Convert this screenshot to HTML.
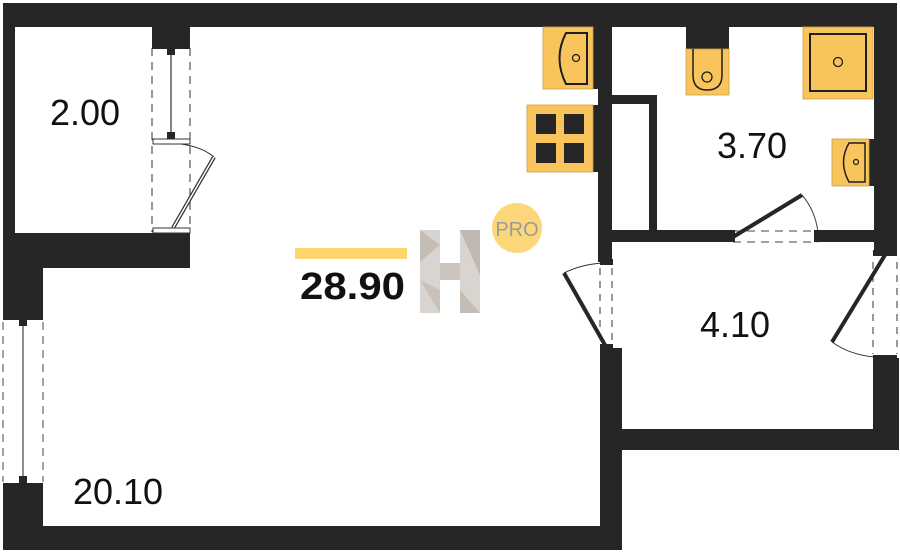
<!DOCTYPE html>
<html><head><meta charset="utf-8"><style>
html,body{margin:0;padding:0;background:#fff;}
svg{display:block;}
text{font-family:"Liberation Sans","DejaVu Sans",sans-serif;}
</style></head><body>
<svg width="900" height="553" viewBox="0 0 900 553" xmlns="http://www.w3.org/2000/svg">
<g fill="#262626">
<rect x="3" y="3" width="894" height="24"/>
<rect x="3" y="3" width="12" height="265"/>
<rect x="152" y="16" width="38" height="29"/>
<rect x="3" y="233" width="187" height="35"/>
<rect x="3" y="233" width="40" height="85"/>
<rect x="3" y="483" width="40" height="67"/>
<rect x="3" y="526" width="619" height="24"/>
<rect x="600" y="348" width="22" height="202"/>
<rect x="598" y="27" width="14" height="235"/>
<rect x="600" y="429" width="299" height="21"/>
<rect x="873" y="358" width="26" height="92"/>
<rect x="874" y="3" width="23" height="248"/>
<rect x="612" y="230" width="117" height="12"/>
<rect x="818" y="230" width="56" height="12"/>
<rect x="612" y="95" width="45" height="9"/>
<rect x="649" y="95" width="8" height="137"/>
<rect x="593" y="27" width="5" height="62"/>
<rect x="593" y="105" width="5" height="67"/>
<rect x="686" y="27" width="43" height="22"/>
<rect x="869" y="139" width="5" height="47"/>
</g>
<g stroke="#333" fill="none">
<line x1="152" y1="48" x2="152" y2="232" stroke-dasharray="8,6"/>
<line x1="190" y1="48" x2="190" y2="232" stroke-dasharray="8,6"/>
<line x1="171" y1="50" x2="171" y2="135" stroke-width="1.2"/>
<path d="M172 143 Q200 145 214 157" stroke-width="1"/>
<line x1="214" y1="157" x2="173" y2="228" stroke-width="4"/>
<line x1="214" y1="157" x2="173" y2="228" stroke="#fff" stroke-width="1.5"/>
</g>
<rect x="152" y="45" width="38" height="4" fill="#262626"/>
<rect x="167" y="49" width="8" height="6" fill="#262626"/>
<rect x="167" y="132" width="8" height="7" fill="#262626"/>
<rect x="153" y="139" width="37" height="5" fill="#fff" stroke="#333"/>
<rect x="153" y="228" width="37" height="5" fill="#fff" stroke="#333"/>
<g stroke="#444" fill="none">
<line x1="3" y1="322" x2="3" y2="482" stroke-dasharray="8,6"/>
<line x1="43" y1="322" x2="43" y2="482" stroke-dasharray="8,6"/>
<line x1="23" y1="325" x2="23" y2="478" stroke-width="1.2"/>
</g>
<rect x="3" y="315" width="40" height="5" fill="#262626"/>
<rect x="19" y="320" width="8" height="6" fill="#262626"/>
<rect x="19" y="476" width="8" height="7" fill="#262626"/>
<g stroke="#333" fill="none">
<line x1="600" y1="268" x2="600" y2="344" stroke-dasharray="7,6"/>
<line x1="612" y1="268" x2="612" y2="344" stroke-dasharray="7,6"/>
<path d="M564 273 Q582 264 604 263" stroke-width="1"/>
<line x1="605" y1="345" x2="564" y2="273" stroke-width="4" stroke="#262626"/>
</g>
<rect x="600" y="259" width="13" height="6" fill="#262626"/>
<rect x="600" y="344" width="13" height="6" fill="#262626"/>
<g stroke="#333" fill="none">
<line x1="873" y1="262" x2="873" y2="354" stroke-dasharray="7,6"/>
<line x1="897" y1="262" x2="897" y2="354" stroke-dasharray="7,6"/>
<path d="M832 342 Q850 355 875 357" stroke-width="1"/>
<line x1="885" y1="255" x2="832" y2="342" stroke-width="4" stroke="#262626"/>
</g>
<rect x="873" y="250" width="24" height="6" fill="#262626"/>
<rect x="873" y="355" width="24" height="5" fill="#262626"/>
<g stroke="#444" fill="none">
<line x1="733" y1="231" x2="818" y2="231" stroke-dasharray="8,6"/>
<line x1="733" y1="242" x2="818" y2="242" stroke-dasharray="8,6"/>
<path d="M802 195 Q815 210 818 232" stroke-width="1"/>
<line x1="733" y1="237" x2="802" y2="195" stroke-width="4" stroke="#262626"/>
</g>
<rect x="727" y="230" width="8" height="12" fill="#262626"/>
<rect x="814" y="230" width="8" height="12" fill="#262626"/>
<g fill="#f9c45c" stroke="#c8a04a" stroke-width="0.8">
<rect x="543" y="27" width="50" height="62"/>
<rect x="527" y="105" width="66" height="67"/>
<rect x="686" y="49" width="43" height="46"/>
<rect x="803" y="27" width="70" height="72"/>
<rect x="832" y="139" width="37" height="47"/>
</g>
<g fill="none" stroke="#1e1e1e" stroke-width="2">
<path d="M587 33 L566 33 Q553 58 566 84 L587 84 Z"/>
<circle cx="576" cy="58" r="3.5" stroke-width="1.3"/>
<path d="M693 49 L693 75 Q693 90 707 90 Q722 90 722 75 L722 49" stroke-width="1.5"/>
<circle cx="707" cy="77" r="5" stroke-width="1.3"/>
<rect x="810" y="34" width="56" height="57"/>
<circle cx="838" cy="62" r="4.5" stroke-width="1.3"/>
<path d="M865 143 L849 143 Q838 162 849 182 L865 182 Z" stroke-width="1.5"/>
<circle cx="856" cy="162" r="2.5" stroke-width="1.2"/>
</g>
<g fill="#262626">
<rect x="536" y="114" width="20" height="20"/><rect x="564" y="114" width="20" height="20"/>
<rect x="536" y="143" width="20" height="20"/><rect x="564" y="143" width="20" height="20"/>
</g>
<rect x="295" y="248" width="112" height="11" fill="#fcd56f"/>
<g>
<rect x="420" y="230" width="20" height="83" fill="#d9d4cf"/>
<rect x="460" y="230" width="20" height="83" fill="#d9d4cf"/>
<rect x="440" y="263" width="20" height="17" fill="#cbc5be"/>
<polygon points="420,230 440,245 420,262" fill="#c4bdb6"/>
<polygon points="460,230 480,230 480,275" fill="#bfb8b1"/>
<polygon points="420,280 440,290 440,313" fill="#c9c2bb"/>
<polygon points="460,290 480,313 460,313" fill="#c4bdb6"/>
</g>
<circle cx="517" cy="228" r="25" fill="#fcd779"/>
<text x="517" y="236" font-size="20" fill="#9a9a9a" text-anchor="middle">PRO</text>
<text x="85" y="125" font-size="36" fill="#111" text-anchor="middle">2.00</text>
<text x="752" y="158" font-size="36" fill="#111" text-anchor="middle">3.70</text>
<text x="735" y="337" font-size="36" fill="#111" text-anchor="middle">4.10</text>
<text x="118" y="504" font-size="36" fill="#111" text-anchor="middle">20.10</text>
<text x="300" y="299" font-size="38" font-weight="bold" fill="#111" textLength="105" lengthAdjust="spacingAndGlyphs">28.90</text>
</svg>
</body></html>
